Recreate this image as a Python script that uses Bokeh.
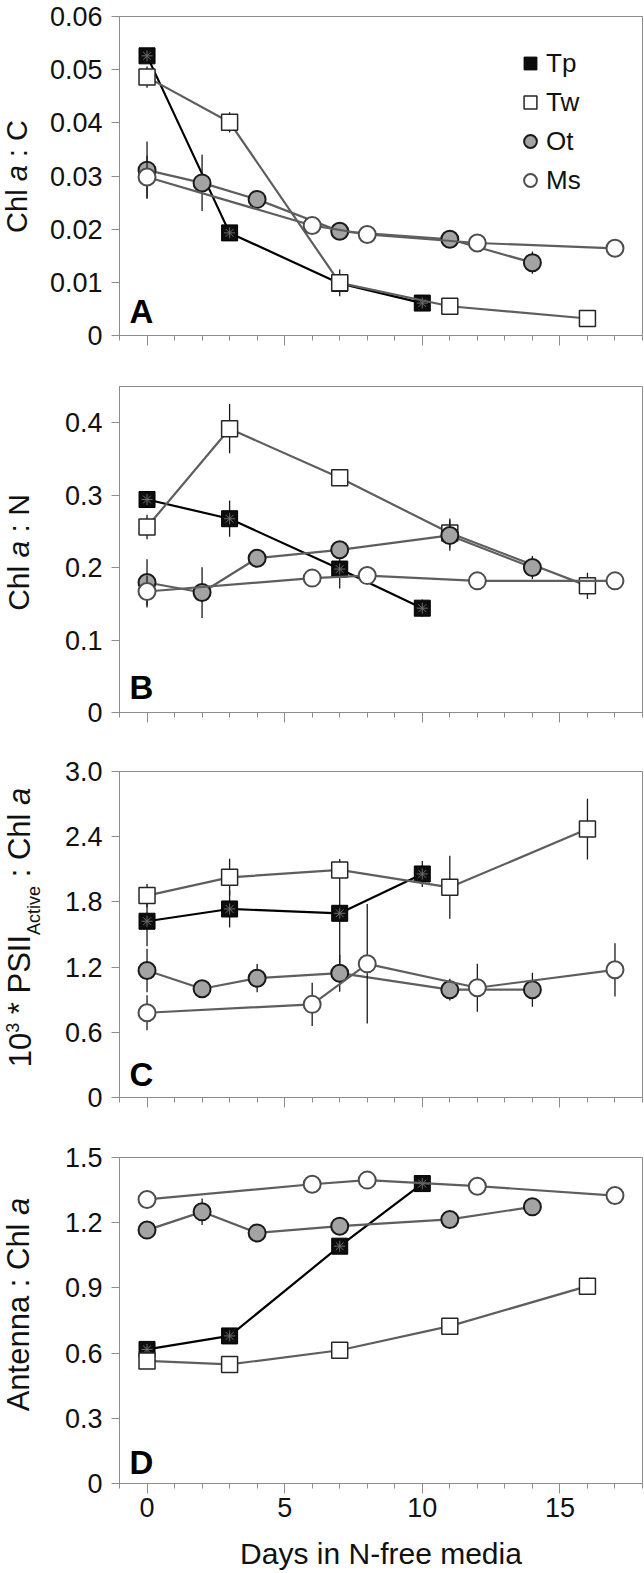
import math
from bokeh.plotting import figure
from bokeh.layouts import column, row
from bokeh.models import (FixedTicker, Label, Legend, LegendItem, Range1d,
                          CustomJSTickFormatter, ColumnDataSource)
from bokeh.embed import file_html
from bokeh.resources import INLINE

# ---------------- data ----------------
days_Tp = [0, 3, 7, 10]
days_Tw = [0, 3, 7, 11, 16]
days_Ot = [0, 2, 4, 7, 11, 14]
days_Ms = [0, 6, 8, 12, 17]

# Panel A: Chl a : C
A_Tp = [0.0526, 0.0193, 0.0098, 0.0061]
A_Tp_err = [0.0, 0.0, 0.0, 0.0]
A_Tw = [0.0486, 0.0401, 0.0099, 0.0055, 0.0032]
A_Tw_err = [0.0020, 0.0019, 0.0025, 0.0, 0.0]
A_Ot = [0.0311, 0.0287, 0.0256, 0.0196, 0.0181, 0.0137]
A_Ot_err = [0.0054, 0.0053, 0.0, 0.0, 0.0, 0.0021]
A_Ms = [0.0298, 0.0207, 0.0190, 0.0174, 0.0164]
A_Ms_err = [0.0040, 0.0, 0.0, 0.0, 0.0]

# Panel B: Chl a : N
B_Tp = [0.294, 0.2675, 0.198, 0.144]
B_Tp_err = [0.0, 0.025, 0.027, 0.012]
B_Tw = [0.256, 0.3917, 0.324, 0.2477, 0.1748]
B_Tw_err = [0.017, 0.034, 0.0, 0.020, 0.018]
B_Ot = [0.1794, 0.1656, 0.213, 0.2246, 0.2444, 0.2001]
B_Ot_err = [0.032, 0.035, 0.012, 0.0, 0.021, 0.016]
B_Ms = [0.167, 0.1855, 0.189, 0.1817, 0.1817]
B_Ms_err = [0.022, 0.0, 0.0, 0.0, 0.0]

# Panel C: 10^3 * PSII_Active : Chl a
C_Tp = [1.622, 1.735, 1.695, 2.057]
C_Tp_err = [0.23, 0.17, 0.50, 0.12]
C_Tw = [1.858, 2.026, 2.094, 1.934, 2.470]
C_Tw_err = [0.107, 0.17, 0.0, 0.29, 0.28]
C_Ot = [1.169, 1.001, 1.098, 1.144, 0.992, 0.992]
C_Ot_err = [0.20, 0.0, 0.13, 0.17, 0.10, 0.156]
C_Ms = [0.780, 0.857, 1.230, 1.010, 1.175]
C_Ms_err = [0.16, 0.20, 0.55, 0.22, 0.245]

# Panel D: Antenna : Chl a
D_Tp = [0.617, 0.679, 1.092, 1.380]
D_Tp_err = [0.0, 0.0, 0.0, 0.0]
D_Tw = [0.564, 0.548, 0.613, 0.724, 0.908]
D_Tw_err = [0.0, 0.0, 0.0, 0.0, 0.04]
D_Ot = [1.166, 1.250, 1.153, 1.184, 1.215, 1.273]
D_Ot_err = [0.0, 0.061, 0.0, 0.0, 0.0, 0.0]
D_Ms = [1.307, 1.377, 1.396, 1.368, 1.325]
D_Ms_err = [0.0, 0.0, 0.0, 0.0, 0.0]

series_names = ["Tp", "Tw", "Ot", "Ms"]

x_major_ticks = [0, 5, 10, 15]
x_minor_ticks = [-1, 1, 2, 3, 4, 6, 7, 8, 9, 11, 12, 13, 14, 16, 17, 18]
x_title = "Days in N-free media"

A_ticks = [0, 0.01, 0.02, 0.03, 0.04, 0.05, 0.06]
A_tick_labels = ["0", "0.01", "0.02", "0.03", "0.04", "0.05", "0.06"]
B_ticks = [0, 0.1, 0.2, 0.3, 0.4]
B_tick_labels = ["0", "0.1", "0.2", "0.3", "0.4"]
C_ticks = [0, 0.6, 1.2, 1.8, 2.4, 3.0]
C_tick_labels = ["0", "0.6", "1.2", "1.8", "2.4", "3.0"]
D_ticks = [0, 0.3, 0.6, 0.9, 1.2, 1.5]
D_tick_labels = ["0", "0.3", "0.6", "0.9", "1.2", "1.5"]

# ---------------- style ----------------
FONT = "Liberation Sans"
AX = "#8c8c8c"
TXT = "#111111"
GRAY_LINE = "#5e5e5e"
MID = 0.3465   # distance (em) from the middle of the font box to the baseline

# Arial / Liberation Sans advance widths (1/1000 em) used to chain title pieces
ADV = {' ': 278, '*': 389, ':': 278, '0': 556, '1': 556, '3': 556, 'A': 667,
       'C': 722, 'I': 278, 'N': 722, 'P': 667, 'S': 667, 'a': 556, 'c': 500,
       'e': 556, 'h': 556, 'i': 222, 'l': 222, 'n': 556, 't': 278, 'v': 500}


def text_w(s, size):
    return sum(ADV.get(c, 556) for c in s) * size / 1000.0


TITLE_W = 46
MAIN_W = 597
TOTAL_H = 1572
FRAME_LEFT_PAGE = 118
MIN_LEFT = FRAME_LEFT_PAGE - TITLE_W


def make_fig(height, top, bottom, yr, yticks, ylabels, show_x_labels):
    p = figure(width=MAIN_W, height=height, x_range=Range1d(-1, 18),
               y_range=Range1d(*yr), output_backend="svg",
               toolbar_location=None, min_border_left=MIN_LEFT,
               min_border_right=1, min_border_top=top,
               min_border_bottom=bottom)
    p.grid.visible = False
    p.outline_line_color = AX
    p.outline_line_width = 1
    p.background_fill_color = "white"
    p.border_fill_color = "white"

    ya = p.yaxis[0]
    ya.ticker = FixedTicker(ticks=yticks, minor_ticks=[])
    ya.formatter = CustomJSTickFormatter(
        args=dict(tvals=yticks, tlabs=ylabels),
        code="for (let i = 0; i < tvals.length; i++) {"
             " if (Math.abs(tvals[i] - tick) < 1e-9) return tlabs[i]; }"
             " return '';")
    ya.axis_line_color = AX
    ya.major_tick_line_color = AX
    ya.major_tick_out = 8
    ya.major_tick_in = 0
    ya.minor_tick_line_color = None
    ya.major_label_standoff = 9
    ya.major_label_text_font = FONT
    ya.major_label_text_font_size = "27px"
    ya.major_label_text_color = TXT

    xa = p.xaxis[0]
    xa.ticker = FixedTicker(ticks=x_major_ticks, minor_ticks=x_minor_ticks)
    xa.axis_line_color = AX
    xa.major_tick_line_color = AX
    xa.minor_tick_line_color = AX
    xa.major_tick_out = 10
    xa.major_tick_in = 0
    xa.minor_tick_out = 5
    xa.minor_tick_in = 0
    xa.major_label_text_font = FONT
    xa.major_label_text_color = TXT
    if show_x_labels:
        xa.major_label_text_font_size = "27px"
        xa.major_label_standoff = 4
        xa.axis_label = x_title
        xa.axis_label_text_font = FONT
        xa.axis_label_text_font_size = "30px"
        xa.axis_label_text_font_style = "normal"
        xa.axis_label_text_color = TXT
        xa.axis_label_standoff = 17
    else:
        xa.formatter = CustomJSTickFormatter(code="return '';")
        xa.major_label_text_font_size = "0px"
        xa.major_label_standoff = 0
    return p


def draw_series(p, days, vals, errs, kind):
    lo = [v - e for v, e in zip(vals, errs)]
    hi = [v + e for v, e in zip(vals, errs)]
    src = ColumnDataSource(dict(x=days, y=vals, lo=lo, hi=hi))
    line_color = "#000000" if kind == "Tp" else GRAY_LINE
    p.line("x", "y", source=src, line_color=line_color, line_width=2.2)
    p.segment(x0="x", y0="lo", x1="x", y1="hi", source=src,
              line_color="#1a1a1a", line_width=1.3)
    if kind == "Tp":
        r = p.scatter("x", "y", source=src, marker="square", size=16,
                      fill_color="#0d0d0d", line_color="#000000", line_width=1)
        p.scatter("x", "y", source=src, marker="asterisk", size=11,
                  line_color="#6e6e6e", line_width=1)
    elif kind == "Tw":
        r = p.scatter("x", "y", source=src, marker="square", size=16,
                      fill_color="white", line_color="#262626", line_width=1.5)
    elif kind == "Ot":
        r = p.scatter("x", "y", source=src, marker="circle", size=17,
                      fill_color="#a3a3a3", line_color="#1a1a1a", line_width=2)
    else:
        r = p.scatter("x", "y", source=src, marker="circle", size=17,
                      fill_color="white", line_color="#4d4d4d", line_width=2)
    return r


# figure that carries the rotated y titles (mixed italic / sub / superscript)
tfig = figure(width=TITLE_W, height=TOTAL_H, x_range=Range1d(0, 1),
              y_range=Range1d(0, 1), output_backend="svg",
              toolbar_location=None, min_border=0, x_axis_location=None,
              y_axis_location=None)
tfig.grid.visible = False
tfig.outline_line_color = None
tfig.background_fill_color = "white"
tfig.border_fill_color = "white"


def v_title(pieces, center_page_y, baseline_x):
    """pieces: (text, size, style, dx); blank text only advances.
    baseline_x is the page x of the rotated text's baseline."""
    total = sum(text_w(t, s) for t, s, st, dx in pieces)
    y = center_page_y + total / 2.0
    for t, s, st, dx in pieces:
        if t.strip():
            tfig.add_layout(Label(
                x=baseline_x + dx - MID * s, y=TOTAL_H - y,
                x_units="screen", y_units="screen", text=t,
                angle=math.pi / 2, text_font=FONT,
                text_font_size="%dpx" % s, text_font_style=st,
                text_align="left", text_baseline="middle",
                text_color=TXT))
        y -= text_w(t, s)


def panel_letter(p, letter, baseline_up):
    p.add_layout(Label(x=10, y=baseline_up + MID * 33, x_units="screen",
                       y_units="screen", text=letter, text_font=FONT,
                       text_font_size="33px", text_font_style="bold",
                       text_align="left", text_baseline="middle",
                       text_color="#000000"))


# ---------------- panels ----------------
# page frame positions: A 16-335, B 386-712, C 771-1097, D 1157-1483
pA = make_fig(360, 16, 25, (0, 0.06), A_ticks, A_tick_labels, False)
pB = make_fig(380, 26, 28, (0, 0.45), B_ticks, B_tick_labels, False)
pC = make_fig(385, 31, 28, (0, 3.0), C_ticks, C_tick_labels, False)
pD = make_fig(447, 32, 89, (0, 1.5), D_ticks, D_tick_labels, True)

panel_data = [
    (pA, [(A_Tp, A_Tp_err), (A_Tw, A_Tw_err), (A_Ot, A_Ot_err), (A_Ms, A_Ms_err)]),
    (pB, [(B_Tp, B_Tp_err), (B_Tw, B_Tw_err), (B_Ot, B_Ot_err), (B_Ms, B_Ms_err)]),
    (pC, [(C_Tp, C_Tp_err), (C_Tw, C_Tw_err), (C_Ot, C_Ot_err), (C_Ms, C_Ms_err)]),
    (pD, [(D_Tp, D_Tp_err), (D_Tw, D_Tw_err), (D_Ot, D_Ot_err), (D_Ms, D_Ms_err)]),
]
days_all = [days_Tp, days_Tw, days_Ot, days_Ms]

legend_renderers = None
for p, sers in panel_data:
    rs = []
    for name, d, (v, e) in zip(series_names, days_all, sers):
        rs.append(draw_series(p, d, v, e, name))
    if p is pA:
        legend_renderers = rs

legend = Legend(
    items=[LegendItem(label=n, renderers=[r]) for n, r in zip(series_names, legend_renderers)],
    location=(395, 139), glyph_width=32, glyph_height=32, label_standoff=0,
    spacing=7, padding=0, margin=0, label_text_font=FONT,
    label_text_font_size="26px", label_text_color=TXT,
    border_line_color=None, background_fill_alpha=0)
pA.add_layout(legend)

panel_letter(pA, "A", 13)
panel_letter(pB, "B", 14)
panel_letter(pC, "C", 12)
panel_letter(pD, "D", 10)

N, I = "normal", "italic"
v_title([("Chl", 29, N, 0), (" ", 29, N, 0), ("a", 29, I, 0),
         (" ", 29, N, 0), (": C", 29, N, 0)], 176, 27)
v_title([("Chl", 30, N, 0), (" ", 30, N, 0), ("a", 30, I, 0),
         (" ", 30, N, 0), (": N", 30, N, 0)], 552, 28)
v_title([("10", 31, N, 0), ("3", 18, N, -12), (" ", 31, N, 0),
         ("* PSII", 31, N, 0), ("Active", 18, N, 10), (" ", 31, N, 0),
         (": Chl", 31, N, 0), (" ", 31, N, 0), ("a", 31, I, 0)], 927, 30)
v_title([("Antenna : Chl", 31, N, 0), (" ", 31, N, 0), ("a", 31, I, 0)],
        1304, 29)

layout = row(tfig, column(pA, pB, pC, pD, spacing=0), spacing=0)

with open("out.html", "w") as f:
    f.write(file_html(layout, INLINE))
